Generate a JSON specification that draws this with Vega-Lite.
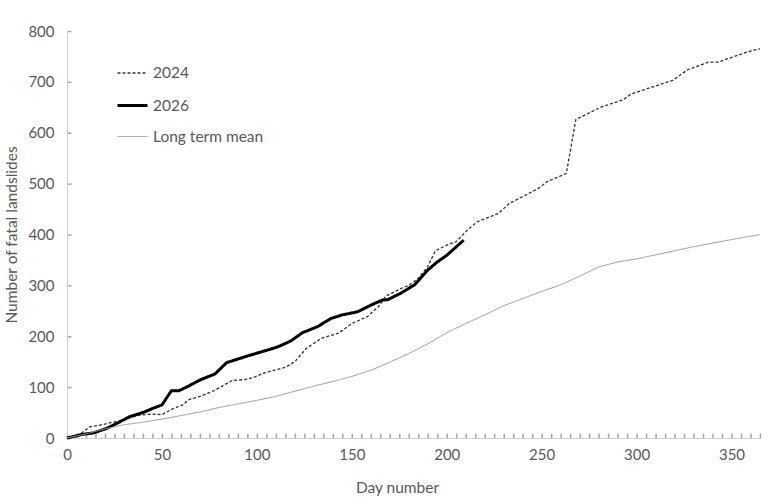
{
  "$schema": "https://vega.github.io/schema/vega-lite/v6.json",
  "width": 693,
  "height": 407,
  "autosize": {"type": "none"},
  "padding": {"left": 67, "top": 31, "right": 8, "bottom": 62},
  "background": "white",
  "config": {
    "view": {"stroke": null},
    "font": "Lato",
    "axis": {"grid": false, "domainColor": "#d0d0d0", "tickColor": "#a6a6a6", "tickWidth": 1.5, "tickRound": false, "labelColor": "#595959", "titleColor": "#595959", "labelFontSize": 15, "titleFontSize": 15.5, "titleFontWeight": "normal", "labelFont": "Lato", "titleFont": "Lato"}
  },
  "data": {
    "values": [
      {"series": "2024", "day": 0, "value": 0},
      {"series": "2024", "day": 7, "value": 8},
      {"series": "2024", "day": 12, "value": 22},
      {"series": "2024", "day": 17, "value": 25},
      {"series": "2024", "day": 23, "value": 30},
      {"series": "2024", "day": 31, "value": 37},
      {"series": "2024", "day": 38, "value": 45},
      {"series": "2024", "day": 45, "value": 47},
      {"series": "2024", "day": 50, "value": 46},
      {"series": "2024", "day": 56, "value": 58},
      {"series": "2024", "day": 61, "value": 65},
      {"series": "2024", "day": 64, "value": 75},
      {"series": "2024", "day": 71, "value": 83},
      {"series": "2024", "day": 78, "value": 94},
      {"series": "2024", "day": 84, "value": 107},
      {"series": "2024", "day": 87, "value": 113},
      {"series": "2024", "day": 94, "value": 115},
      {"series": "2024", "day": 99, "value": 120},
      {"series": "2024", "day": 103, "value": 127},
      {"series": "2024", "day": 108, "value": 132},
      {"series": "2024", "day": 115, "value": 139},
      {"series": "2024", "day": 120, "value": 150},
      {"series": "2024", "day": 126, "value": 176},
      {"series": "2024", "day": 134, "value": 196},
      {"series": "2024", "day": 143, "value": 206},
      {"series": "2024", "day": 150, "value": 225},
      {"series": "2024", "day": 158, "value": 238},
      {"series": "2024", "day": 164, "value": 258},
      {"series": "2024", "day": 168, "value": 279},
      {"series": "2024", "day": 176, "value": 294},
      {"series": "2024", "day": 180, "value": 300},
      {"series": "2024", "day": 185, "value": 314},
      {"series": "2024", "day": 190, "value": 337},
      {"series": "2024", "day": 194, "value": 368},
      {"series": "2024", "day": 200, "value": 379},
      {"series": "2024", "day": 205, "value": 386},
      {"series": "2024", "day": 211, "value": 409},
      {"series": "2024", "day": 216, "value": 425},
      {"series": "2024", "day": 227, "value": 441},
      {"series": "2024", "day": 233, "value": 461},
      {"series": "2024", "day": 248, "value": 490},
      {"series": "2024", "day": 253, "value": 504},
      {"series": "2024", "day": 263, "value": 520},
      {"series": "2024", "day": 268, "value": 626},
      {"series": "2024", "day": 281, "value": 650},
      {"series": "2024", "day": 293, "value": 665},
      {"series": "2024", "day": 297, "value": 676},
      {"series": "2024", "day": 319, "value": 703},
      {"series": "2024", "day": 327, "value": 724},
      {"series": "2024", "day": 338, "value": 739},
      {"series": "2024", "day": 343, "value": 739},
      {"series": "2024", "day": 361, "value": 762},
      {"series": "2024", "day": 365, "value": 765},
      {"series": "2026", "day": 0, "value": 0},
      {"series": "2026", "day": 8, "value": 7},
      {"series": "2026", "day": 14, "value": 10},
      {"series": "2026", "day": 21, "value": 19},
      {"series": "2026", "day": 28, "value": 32},
      {"series": "2026", "day": 33, "value": 42},
      {"series": "2026", "day": 40, "value": 50},
      {"series": "2026", "day": 45, "value": 58},
      {"series": "2026", "day": 50, "value": 65},
      {"series": "2026", "day": 55, "value": 93},
      {"series": "2026", "day": 59, "value": 93},
      {"series": "2026", "day": 64, "value": 102},
      {"series": "2026", "day": 70, "value": 114},
      {"series": "2026", "day": 78, "value": 126},
      {"series": "2026", "day": 84, "value": 148},
      {"series": "2026", "day": 94, "value": 160},
      {"series": "2026", "day": 103, "value": 170},
      {"series": "2026", "day": 111, "value": 179},
      {"series": "2026", "day": 118, "value": 191},
      {"series": "2026", "day": 124, "value": 207},
      {"series": "2026", "day": 132, "value": 219},
      {"series": "2026", "day": 139, "value": 235},
      {"series": "2026", "day": 145, "value": 242},
      {"series": "2026", "day": 153, "value": 248},
      {"series": "2026", "day": 160, "value": 261},
      {"series": "2026", "day": 166, "value": 271},
      {"series": "2026", "day": 169, "value": 272},
      {"series": "2026", "day": 176, "value": 285},
      {"series": "2026", "day": 183, "value": 301},
      {"series": "2026", "day": 190, "value": 330},
      {"series": "2026", "day": 195, "value": 346},
      {"series": "2026", "day": 200, "value": 359},
      {"series": "2026", "day": 209, "value": 389},
      {"series": "Long term mean", "day": 0, "value": 0},
      {"series": "Long term mean", "day": 10, "value": 8},
      {"series": "Long term mean", "day": 20, "value": 18},
      {"series": "Long term mean", "day": 30, "value": 26},
      {"series": "Long term mean", "day": 40, "value": 31},
      {"series": "Long term mean", "day": 50, "value": 37},
      {"series": "Long term mean", "day": 60, "value": 44},
      {"series": "Long term mean", "day": 70, "value": 51},
      {"series": "Long term mean", "day": 80, "value": 60},
      {"series": "Long term mean", "day": 90, "value": 67},
      {"series": "Long term mean", "day": 100, "value": 74},
      {"series": "Long term mean", "day": 110, "value": 82},
      {"series": "Long term mean", "day": 120, "value": 92},
      {"series": "Long term mean", "day": 130, "value": 102},
      {"series": "Long term mean", "day": 140, "value": 111},
      {"series": "Long term mean", "day": 150, "value": 121},
      {"series": "Long term mean", "day": 160, "value": 133},
      {"series": "Long term mean", "day": 170, "value": 149},
      {"series": "Long term mean", "day": 180, "value": 166},
      {"series": "Long term mean", "day": 190, "value": 185},
      {"series": "Long term mean", "day": 200, "value": 207},
      {"series": "Long term mean", "day": 210, "value": 225},
      {"series": "Long term mean", "day": 220, "value": 242},
      {"series": "Long term mean", "day": 230, "value": 260},
      {"series": "Long term mean", "day": 240, "value": 274},
      {"series": "Long term mean", "day": 250, "value": 288},
      {"series": "Long term mean", "day": 260, "value": 301},
      {"series": "Long term mean", "day": 270, "value": 318},
      {"series": "Long term mean", "day": 280, "value": 336},
      {"series": "Long term mean", "day": 290, "value": 346},
      {"series": "Long term mean", "day": 300, "value": 352},
      {"series": "Long term mean", "day": 310, "value": 360},
      {"series": "Long term mean", "day": 320, "value": 368},
      {"series": "Long term mean", "day": 330, "value": 376},
      {"series": "Long term mean", "day": 340, "value": 383},
      {"series": "Long term mean", "day": 350, "value": 390},
      {"series": "Long term mean", "day": 365, "value": 400}
    ]
  },
  "mark": {"type": "line", "strokeCap": "butt", "strokeJoin": "round"},
  "encoding": {
    "x": {
      "field": "day",
      "type": "quantitative",
      "title": "Day number",
      "scale": {"domain": [0, 365], "nice": false},
      "axis": {
        "values": [0,5,10,15,20,25,30,35,40,45,50,55,60,65,70,75,80,85,90,95,100,105,110,115,120,125,130,135,140,145,150,155,160,165,170,175,180,185,190,195,200,205,210,215,220,225,230,235,240,245,250,255,260,265,270,275,280,285,290,295,300,305,310,315,320,325,330,335,340,345,350,355,360,365],
        "labelExpr": "datum.value % 50 === 0 ? datum.label : ''",
        "labelOverlap": false,
        "labelFlush": false,
        "tickSize": -5,
        "labelPadding": 14,
        "titlePadding": 18,
        "titleX": 330
      }
    },
    "y": {
      "field": "value",
      "type": "quantitative",
      "title": "Number of fatal landslides",
      "scale": {"domain": [0, 800], "nice": false},
      "axis": {"values": [0,100,200,300,400,500,600,700,800], "tickSize": -4, "labelPadding": 17, "titlePadding": 8}
    },
    "color": {
      "field": "series",
      "type": "nominal",
      "title": null,
      "scale": {"domain": ["2024", "2026", "Long term mean"], "range": ["#333333", "#000000", "#999999"]},
      "legend": {
        "orient": "none",
        "legendX": 49,
        "legendY": 26,
        "symbolType": "stroke",
        "symbolSize": 900,
        "rowPadding": 7,
        "labelFontSize": 15.5,
        "labelColor": "#595959",
        "labelOffset": 4,
        "labelFont": "Lato"
      }
    },
    "strokeDash": {
      "field": "series",
      "type": "nominal",
      "title": null,
      "scale": {"domain": ["2024", "2026", "Long term mean"], "range": [[3, 2], [1, 0], [1, 0]]}
    },
    "strokeWidth": {
      "field": "series",
      "type": "nominal",
      "title": null,
      "scale": {"type": "ordinal", "domain": ["2024", "2026", "Long term mean"], "range": [1.3, 3, 1]}
    }
  }
}
